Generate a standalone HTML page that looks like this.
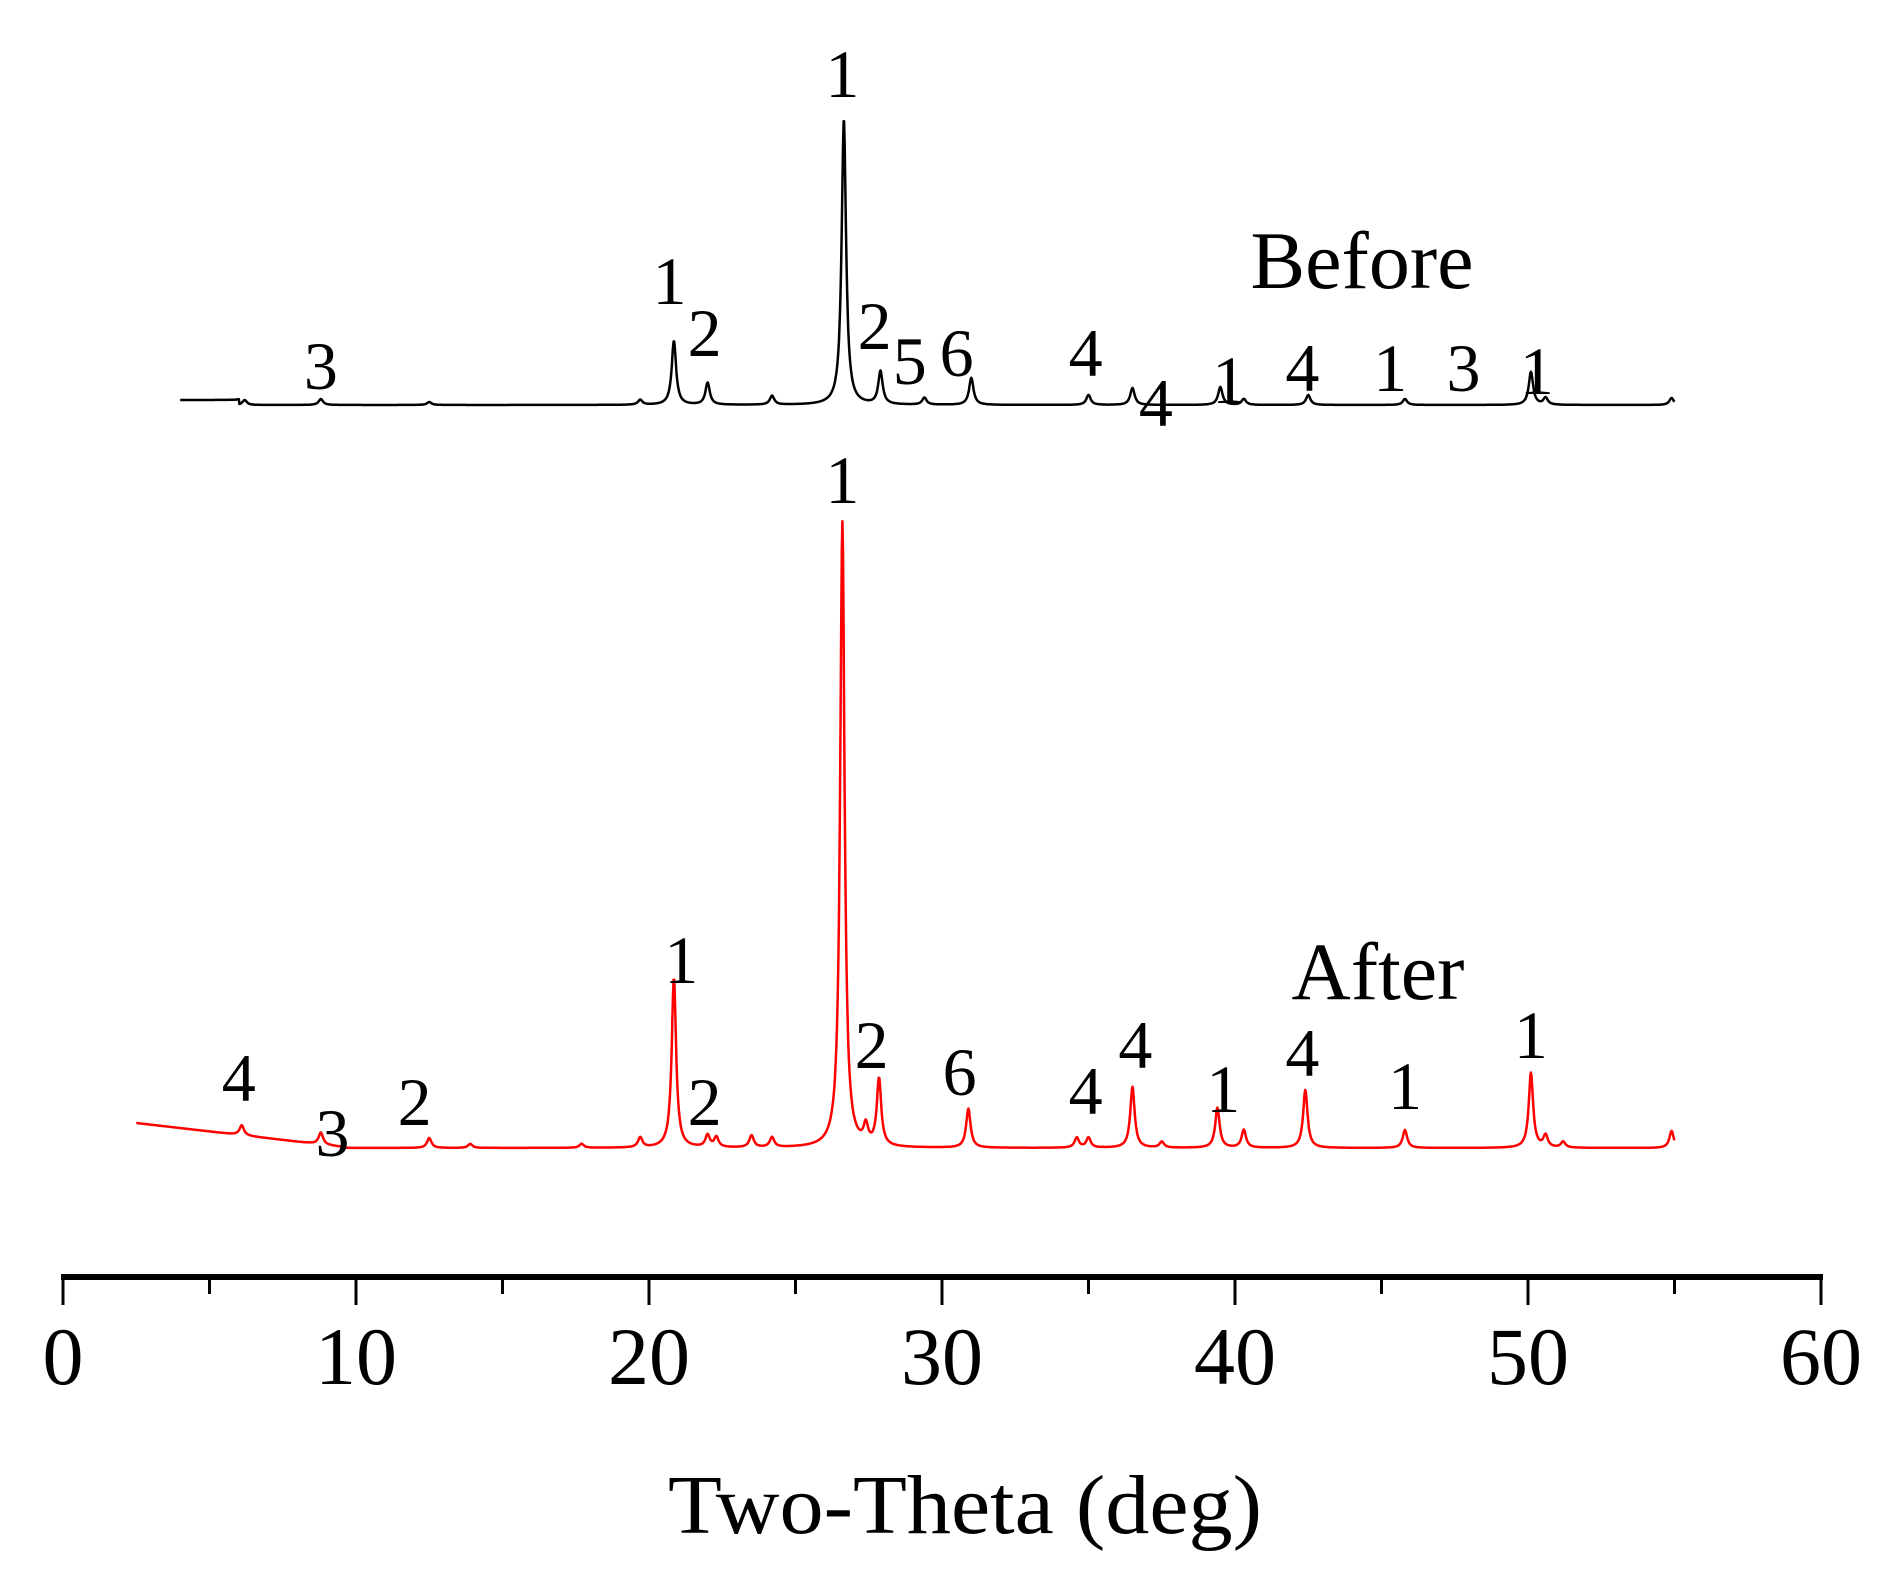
<!DOCTYPE html>
<html><head><meta charset="utf-8"><style>
html,body{margin:0;padding:0;background:#fff;}
svg{display:block;}
text{font-family:"Liberation Serif",serif;fill:#000;}
</style></head><body>
<svg id="chart" width="1894" height="1584" viewBox="0 0 1894 1584" xmlns="http://www.w3.org/2000/svg">
<g id="axis"></g>
<g id="series"></g>
<g id="labels"></g>
<text x="965" y="1533" font-size="84" text-anchor="middle" textLength="594" lengthAdjust="spacingAndGlyphs">Two-Theta (deg)</text>
</svg>
<script>
// ---- data ----
const xTicks = [0,10,20,30,40,50,60];
const beforePos = [6.2,8.8,12.5,19.7,20.85,22.0,24.2,26.65,27.9,29.4,31.0,35.0,36.5,39.5,40.3,42.5,45.8,50.1,50.6,54.9];
const beforeInt = [5,6,3,5,64,22,9,287,33,7,27,10,17,18,6,10,6,33,7,7];
const afterPos = [6.1,8.8,12.5,13.9,17.7,19.7,20.85,22.0,22.3,23.5,24.2,26.6,27.4,27.85,30.9,34.6,35.0,36.5,37.5,39.4,40.3,42.4,45.8,50.1,50.6,51.2,54.9];
const afterInt = [10,12,10,4,4,10,170,12,10,12,10,626,18,67,39,10,10,61,6,40,18,58,18,75,12,6,17];
const beforeLabels = ["1","1","2","3","2","5","6","4","4","1","4","1","3","1"];
const beforeLabelPos = [26.6,20.7,21.9,8.8,27.7,28.9,30.5,34.9,37.3,39.8,42.3,45.3,47.8,50.3];
const afterLabels = ["1","1","2","4","3","2","2","6","4","4","1","4","1","1"];
const afterLabelPos = [26.6,21.1,21.9,6.0,9.2,12.0,27.6,30.6,34.9,36.6,39.6,42.3,45.8,50.1];

// ---- scales ----
const X0=63, X1=1821, XMIN=0, XMAX=60;
const xs = v => X0 + (v-XMIN)/(XMAX-XMIN)*(X1-X0);
const NS="http://www.w3.org/2000/svg";
function mk(tag, attrs, parent){const e=document.createElementNS(NS,tag);for(const k in attrs)e.setAttribute(k,attrs[k]);parent.appendChild(e);return e;}

const AY=1277;
const ax=document.getElementById('axis');
const axisLine=mk('line',{x1:X0-2,x2:X1+2,y1:AY,y2:AY,stroke:'#000','stroke-width':6},ax);


for(let v=0; v<=60; v+=5){
  const major = v%10===0;
  const t=mk('line',{x1:xs(v),x2:xs(v),y1:AY,y2:major?1305:1294,stroke:'#000','stroke-width':3},ax);
  
  
}
xTicks.forEach(v=>{
  const t=mk('text',{x:xs(v),y:1384,'font-size':82,'text-anchor':'middle'},ax);
  t.textContent=v;
  
  
});

function profile(pos,intens,xmin,xmax,base,bgFn){
  let d='';
  for(let x=xmin;x<=xmax+1e-9;x+=0.02){
    let y=bgFn(x);
    for(let i=0;i<pos.length;i++){
      const dx=(x-pos[i])/0.09;
      y+=intens[i]/(1+dx*dx);
    }
    d+=(d?'L':'M')+xs(x).toFixed(1)+','+(base-y).toFixed(1);
  }
  return d;
}
const sg=document.getElementById('series');
const pb=mk('path',{d:profile(beforePos,beforeInt,4.0,55.0,405,x=>x<6?5:0),fill:'none',stroke:'#000','stroke-width':2.5,'stroke-linejoin':'round'},sg);


const pa=mk('path',{d:profile(afterPos,afterInt,2.5,55.0,1148,x=>x<9.5?Math.max(0,25-(x-2.5)*3.4):0),fill:'none',stroke:'#ff0000','stroke-width':2.5,'stroke-linejoin':'round'},sg);



const lg=document.getElementById('labels');
const beforeLabelY=[97,304,356,389,349,384,376,376,426,403,391,391,391,394];
const afterLabelY=[503,983,1125,1101,1156,1125,1068,1095,1114,1068,1112,1076,1109,1058];
beforeLabels.forEach((s,i)=>{
  const t=mk('text',{x:xs(beforeLabelPos[i]),y:beforeLabelY[i],'font-size':68,'text-anchor':'middle'},lg);
  t.textContent=s;
  
  
});
afterLabels.forEach((s,i)=>{
  const t=mk('text',{x:xs(afterLabelPos[i]),y:afterLabelY[i],'font-size':68,'text-anchor':'middle'},lg);
  t.textContent=s;
  
  
});
const bt=mk('text',{x:1362,y:288,'font-size':82,'text-anchor':'middle'},lg);
bt.textContent='Before';


const at=mk('text',{x:1378,y:999,'font-size':82,'text-anchor':'middle'},lg);
at.textContent='After';


</script>
</body></html>
